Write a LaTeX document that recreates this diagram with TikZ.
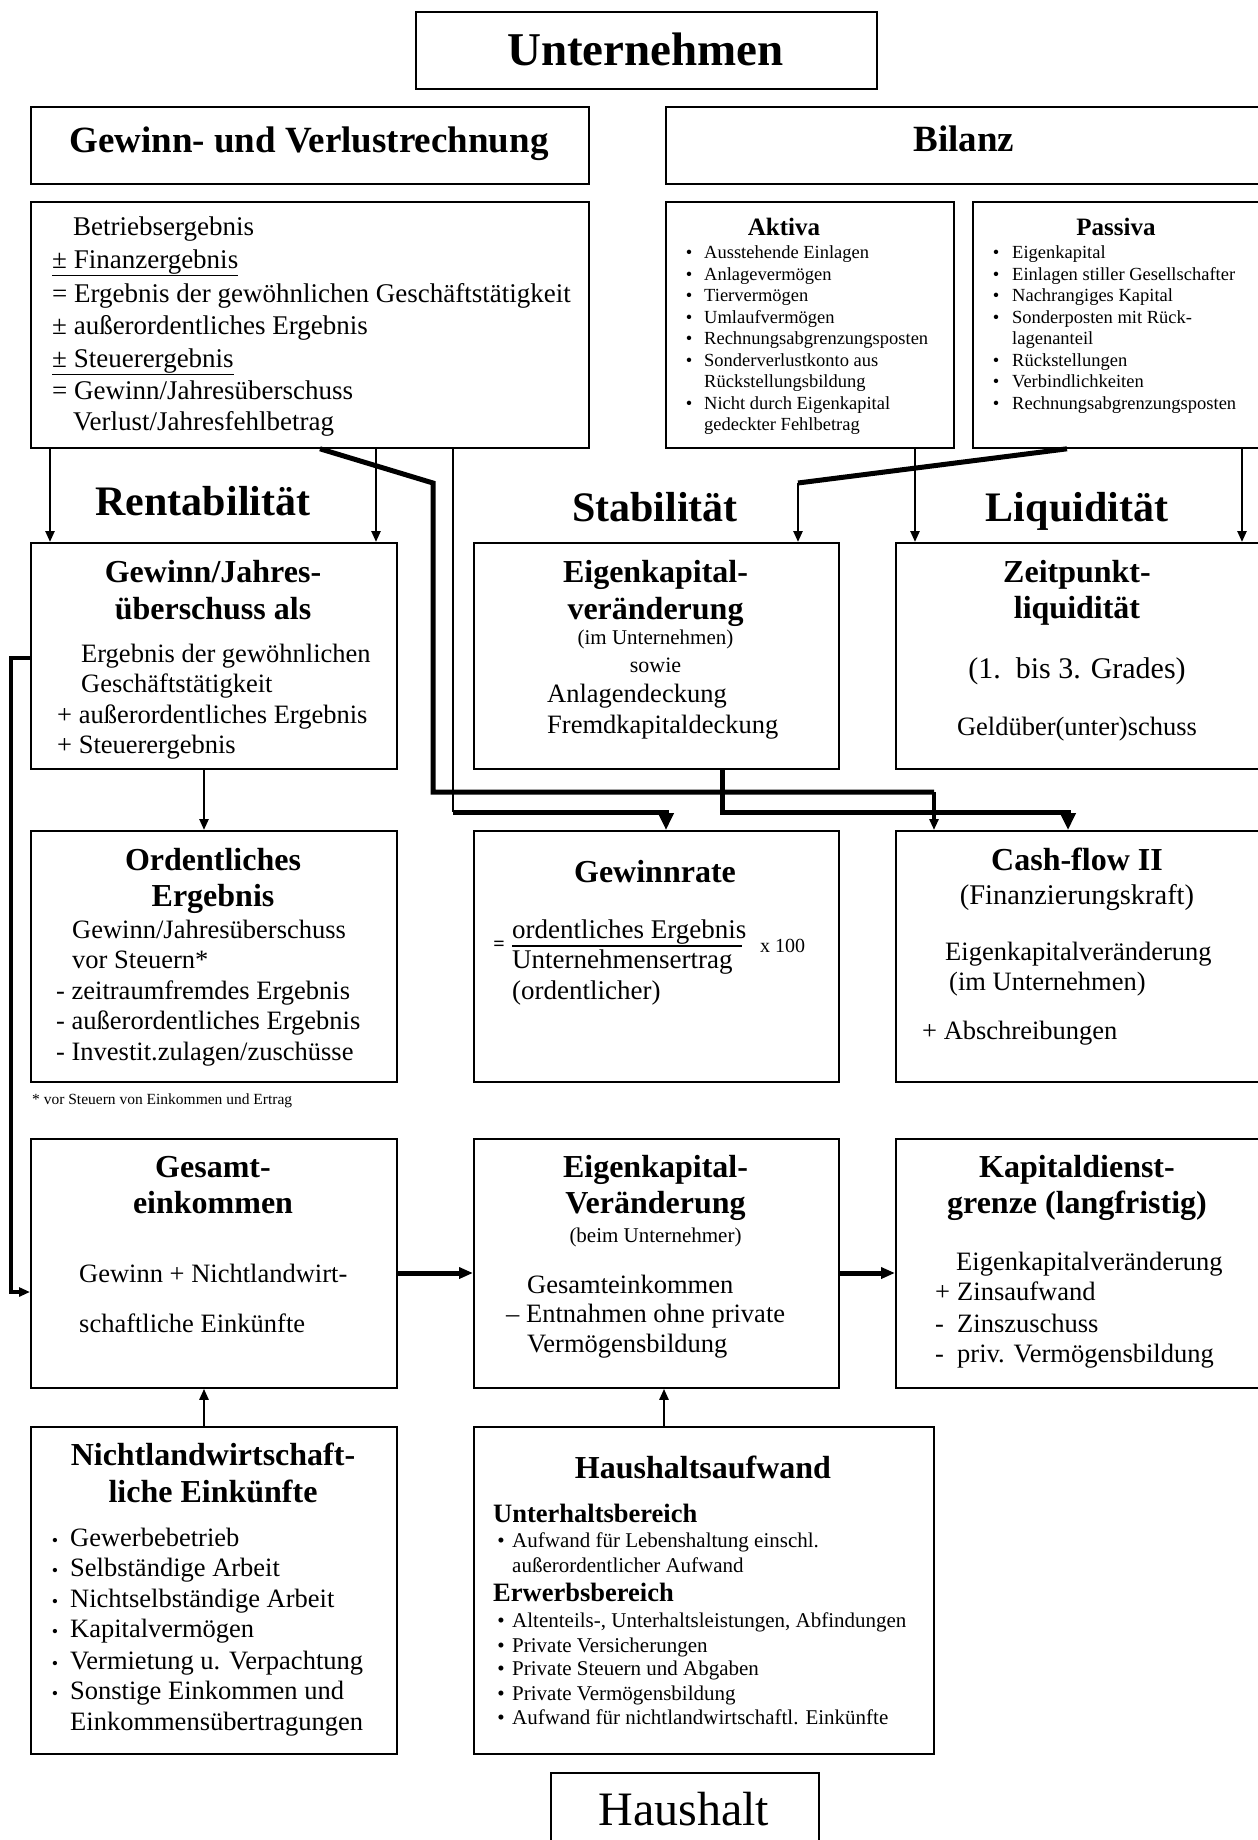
\documentclass[tikz,border=0pt]{standalone}
\usepackage{fontspec}
\setmainfont{Liberation Serif}
\usetikzlibrary{arrows.meta}
\newcommand\myfz[1]{\fontsize{#1pt}{#1pt}\selectfont}
\begin{document}
\begin{tikzpicture}[x=1pt,y=-1pt,
  box/.style={draw,line width=1.8pt,inner sep=0pt,anchor=north west},
  lt/.style={inner sep=0pt,anchor=base west},
  ct/.style={inner sep=0pt,anchor=base},
  body/.style={font=\myfz{26.5}},
  ttl/.style={font=\bfseries\myfz{32}},
  head/.style={font=\bfseries\myfz{42}},
  sm/.style={font=\myfz{18.5}},
  hs/.style={font=\myfz{21}},
  conthin/.style={line width=2.4pt},
  conthick/.style={line width=5pt},
  sarr/.style={-{Triangle[width=9pt,length=11pt]}},
  barr/.style={-{Triangle[width=15pt,length=17pt]}},
  marr/.style={-{Triangle[width=11pt,length=14pt]}},
]
\clip (0,0) rectangle (1258,1840);
% ---------- boxes ----------
\node[box,minimum width=461pt,minimum height=77pt] (unt) at (415,11) {};
\node[box,minimum width=558pt,minimum height=77pt] (guv) at (30,106) {};
\node[box,minimum width=598pt,minimum height=77pt] (bil) at (665,106) {};
\node[box,minimum width=558pt,minimum height=246pt] (guvc) at (30,201) {};
\node[box,minimum width=288pt,minimum height=246pt] (akt) at (665,201) {};
\node[box,minimum width=291pt,minimum height=246pt] (pas) at (972,201) {};
\node[box,minimum width=366pt,minimum height=226pt] (gew) at (30,542) {};
\node[box,minimum width=365pt,minimum height=226pt] (ekv) at (473,542) {};
\node[box,minimum width=368pt,minimum height=226pt] (zeit) at (895,542) {};
\node[box,minimum width=366pt,minimum height=251pt] (ord) at (30,830) {};
\node[box,minimum width=365pt,minimum height=251pt] (rate) at (473,830) {};
\node[box,minimum width=368pt,minimum height=251pt] (cash) at (895,830) {};
\node[box,minimum width=366pt,minimum height=249pt] (ges) at (30,1138) {};
\node[box,minimum width=365pt,minimum height=249pt] (ekvb) at (473,1138) {};
\node[box,minimum width=368pt,minimum height=249pt] (kap) at (895,1138) {};
\node[box,minimum width=366pt,minimum height=327pt] (nicht) at (30,1426) {};
\node[box,minimum width=460pt,minimum height=327pt] (haus) at (473,1426) {};
\node[box,minimum width=268pt,minimum height=80pt] (hh) at (550,1772) {};
% ---------- top texts ----------
\node[ct,font=\bfseries\myfz{47}] (tunt) at (645.5,65) {Unternehmen};
\node[ct,font=\bfseries\myfz{37}] (tguv) at (309,152) {Gewinn- und Verlustrechnung};
\node[ct,font=\bfseries\myfz{37}] (tbil) at (964,151) {Bilanz};
\node[lt,font=\myfz{27}] (g1) at (73,235) {Betriebsergebnis};
\node[lt,font=\myfz{27}] (g2) at (52,268) {\underline{± Finanzergebnis}};
\node[lt,font=\myfz{27}] (g3) at (52,302) {= Ergebnis der gewöhnlichen Geschäftstätigkeit};
\node[lt,font=\myfz{27}] (g4) at (52,334) {± außerordentliches Ergebnis};
\node[lt,font=\myfz{27}] (g5) at (52,367) {\underline{± Steuerergebnis}};
\node[lt,font=\myfz{27}] (g6) at (52,399) {= Gewinn/Jahresüberschuss};
\node[lt,font=\myfz{27}] (g7) at (73,430) {Verlust/Jahresfehlbetrag};
% Aktiva
\node[ct,font=\bfseries\myfz{25}] (tak) at (784,235) {Aktiva};
\node[ct,sm] (ab1) at (689,258.5) {•};
\node[lt,sm] (a1) at (704,258.5) {Ausstehende Einlagen};
\node[ct,sm] (ab2) at (689,280) {•};
\node[lt,sm] (a2) at (704,280) {Anlagevermögen};
\node[ct,sm] (ab3) at (689,301.5) {•};
\node[lt,sm] (a3) at (704,301.5) {Tiervermögen};
\node[ct,sm] (ab4) at (689,323) {•};
\node[lt,sm] (a4) at (704,323) {Umlaufvermögen};
\node[ct,sm] (ab5) at (689,344.5) {•};
\node[lt,sm] (a5) at (704,344.5) {Rechnungsabgrenzungsposten};
\node[ct,sm] (ab6) at (689,366) {•};
\node[lt,sm] (a6) at (704,366) {Sonderverlustkonto aus};
\node[lt,sm] (a7) at (704,387.5) {Rückstellungsbildung};
\node[ct,sm] (ab8) at (689,409) {•};
\node[lt,sm] (a8) at (704,409) {Nicht durch Eigenkapital};
\node[lt,sm] (a9) at (704,430.5) {gedeckter Fehlbetrag};
% Passiva
\node[ct,font=\bfseries\myfz{25}] (tpa) at (1116,235) {Passiva};
\node[ct,sm] (pb1) at (996,258.5) {•};
\node[lt,sm] (p1) at (1012,258.5) {Eigenkapital};
\node[ct,sm] (pb2) at (996,280) {•};
\node[lt,sm] (p2) at (1012,280) {Einlagen stiller Gesellschafter};
\node[ct,sm] (pb3) at (996,301.5) {•};
\node[lt,sm] (p3) at (1012,301.5) {Nachrangiges Kapital};
\node[ct,sm] (pb4) at (996,323) {•};
\node[lt,sm] (p4) at (1012,323) {Sonderposten mit Rück-};
\node[lt,sm] (p5) at (1012,344.5) {lagenanteil};
\node[ct,sm] (pb6) at (996,366) {•};
\node[lt,sm] (p6) at (1012,366) {Rückstellungen};
\node[ct,sm] (pb7) at (996,387.5) {•};
\node[lt,sm] (p7) at (1012,387.5) {Verbindlichkeiten};
\node[ct,sm] (pb8) at (996,409) {•};
\node[lt,sm] (p8) at (1012,409) {Rechnungsabgrenzungsposten};
% headings
\node[ct,head] (hr) at (203,515) {Rentabilität};
\node[ct,head] (hs) at (655,521) {Stabilität};
\node[ct,head] (hl) at (1077,521) {Liquidität};
% ---------- row 2 ----------
\node[ct,ttl] (gw1) at (213,582) {Gewinn/Jahres-};
\node[ct,ttl] (gw2) at (213,619) {überschuss als};
\node[lt,body] (gw3) at (81,662) {Ergebnis der gewöhnlichen};
\node[lt,body] (gw4) at (81,692) {Geschäftstätigkeit};
\node[lt,body] (gw5) at (57,723) {+ außerordentliches Ergebnis};
\node[lt,body] (gw6) at (57,753) {+ Steuerergebnis};
\node[ct,ttl] (ek1) at (655.5,582) {Eigenkapital-};
\node[ct,ttl] (ek2) at (655.5,619) {veränderung};
\node[ct,font=\myfz{21}] (ek3) at (655.5,644) {(im Unternehmen)};
\node[ct,font=\myfz{22}] (ek4) at (655.5,672) {sowie};
\node[lt,body] (ek5) at (547,702) {Anlagendeckung};
\node[lt,body] (ek6) at (547,733) {Fremdkapitaldeckung};
\node[ct,ttl] (ze1) at (1077,582) {Zeitpunkt-};
\node[ct,ttl] (ze2) at (1077,618) {liquidität};
\node[ct,font=\myfz{30}] (ze3) at (1077,678) {(1.\ \ bis 3. Grades)};
\node[ct,body] (ze4) at (1077,735) {Geldüber(unter)schuss};
% ---------- row 3 ----------
\node[ct,ttl] (or1) at (213,870) {Ordentliches};
\node[ct,ttl] (or2) at (213,906) {Ergebnis};
\node[lt,body] (or3) at (72,938) {Gewinn/Jahresüberschuss};
\node[lt,body] (or4) at (72,968) {vor Steuern*};
\node[lt,body] (or5) at (56,999) {- zeitraumfremdes Ergebnis};
\node[lt,body] (or6) at (56,1029) {- außerordentliches Ergebnis};
\node[lt,body] (or7) at (56,1060) {- Investit.zulagen/zuschüsse};
\node[ct,ttl] (ra1) at (655,882) {Gewinnrate};
\node[inner sep=0pt,font=\bfseries\myfz{20}] (ra2) at (499,946) {=};
\node[lt,font=\myfz{27}] (ra3) at (512,938) {ordentliches Ergebnis};
\coordinate (fl1) at (512,946);
\coordinate (fl2) at (742,946);
\draw[line width=2.5pt] (fl1) -- (fl2);
\node[lt,font=\myfz{27}] (ra4) at (512,968) {Unternehmensertrag};
\node[lt,font=\myfz{27}] (ra5) at (512,999) {(ordentlicher)};
\node[lt,font=\myfz{20}] (ra6) at (760,952) {x 100};
\node[ct,ttl] (cf1) at (1077,870) {Cash-flow II};
\node[ct,font=\myfz{28.5}] (cf2) at (1077,904) {(Finanzierungskraft)};
\node[lt,body] (cf3) at (945,960) {Eigenkapitalveränderung};
\node[lt,body] (cf4) at (949,990) {(im Unternehmen)};
\node[lt,body] (cf5) at (922,1039) {+ Abschreibungen};
\node[lt,font=\myfz{15.5}] (foot) at (32,1104) {* vor Steuern von Einkommen und Ertrag};
% ---------- row 4 ----------
\node[ct,ttl] (ge1) at (213,1177) {Gesamt-};
\node[ct,ttl] (ge2) at (213,1213) {einkommen};
\node[lt,body] (ge3) at (79,1282) {Gewinn + Nichtlandwirt-};
\node[lt,body] (ge4) at (79,1332) {schaftliche Einkünfte};
\node[ct,ttl] (eb1) at (655.5,1177) {Eigenkapital-};
\node[ct,ttl] (eb2) at (655.5,1213) {Veränderung};
\node[ct,font=\myfz{21}] (eb3) at (655.5,1242) {(beim Unternehmer)};
\node[lt,body] (eb4) at (527,1293) {Gesamteinkommen};
\node[lt,body] (eb5) at (506,1322) {– Entnahmen ohne private};
\node[lt,body] (eb6) at (527,1352) {Vermögensbildung};
\node[ct,ttl] (ka1) at (1077,1177) {Kapitaldienst-};
\node[ct,ttl] (ka2) at (1077,1213) {grenze (langfristig)};
\node[lt,body] (ka3) at (956,1270) {Eigenkapitalveränderung};
\node[lt,body] (ka4) at (935,1300) {\makebox[22pt][l]{+}Zinsaufwand};
\node[lt,body] (ka5) at (935,1332) {\makebox[22pt][l]{-}Zinszuschuss};
\node[lt,body] (ka6) at (935,1362) {\makebox[22pt][l]{-}priv. Vermögensbildung};
% ---------- row 5 ----------
\node[ct,ttl] (ni1) at (213,1465) {Nichtlandwirtschaft-};
\node[ct,ttl] (ni2) at (213,1502) {liche Einkünfte};
\node[ct,font=\myfz{18}] (nb1) at (55,1546) {•};
\node[lt,body] (n1) at (70,1546) {Gewerbebetrieb};
\node[ct,font=\myfz{18}] (nb2) at (55,1576) {•};
\node[lt,body] (n2) at (70,1576) {Selbständige Arbeit};
\node[ct,font=\myfz{18}] (nb3) at (55,1607) {•};
\node[lt,body] (n3) at (70,1607) {Nichtselbständige Arbeit};
\node[ct,font=\myfz{18}] (nb4) at (55,1637) {•};
\node[lt,body] (n4) at (70,1637) {Kapitalvermögen};
\node[ct,font=\myfz{18}] (nb5) at (55,1669) {•};
\node[lt,body] (n5) at (70,1669) {Vermietung u. Verpachtung};
\node[ct,font=\myfz{18}] (nb6) at (55,1699) {•};
\node[lt,body] (n6) at (70,1699) {Sonstige Einkommen und};
\node[lt,body] (n7) at (70,1730) {Einkommensübertragungen};
\node[ct,ttl] (ha1) at (703,1478) {Haushaltsaufwand};
\node[lt,font=\bfseries\myfz{26.5}] (ha2) at (493,1522) {Unterhaltsbereich};
\node[ct,hs] (hb1) at (501,1547) {•};
\node[lt,hs] (ha3) at (512,1547) {Aufwand für Lebenshaltung einschl.};
\node[lt,hs] (ha4) at (512,1572) {außerordentlicher Aufwand};
\node[lt,font=\bfseries\myfz{26.5}] (ha5) at (493,1601) {Erwerbsbereich};
\node[ct,hs] (hb2) at (501,1627) {•};
\node[lt,hs] (ha6) at (512,1627) {Altenteils-, Unterhaltsleistungen, Abfindungen};
\node[ct,hs] (hb3) at (501,1652) {•};
\node[lt,hs] (ha7) at (512,1652) {Private Versicherungen};
\node[ct,hs] (hb4) at (501,1675) {•};
\node[lt,hs] (ha8) at (512,1675) {Private Steuern und Abgaben};
\node[ct,hs] (hb5) at (501,1700) {•};
\node[lt,hs] (ha9) at (512,1700) {Private Vermögensbildung};
\node[ct,hs] (hb6) at (501,1724) {•};
\node[lt,hs] (ha10) at (512,1724) {Aufwand für nichtlandwirtschaftl. Einkünfte};
\node[ct,font=\myfz{48}] (thh) at (684,1825) {Haushalt};
% ---------- connector coordinates ----------
\coordinate (x50) at (50,0);
\coordinate (x376) at (376,0);
\coordinate (x204) at (204,0);
\coordinate (x320) at (320,0);
\coordinate (x453) at (453,0);
\coordinate (x664) at (664,0);
\coordinate (x722) at (722,0);
\coordinate (x915) at (915,0);
\coordinate (x1067) at (1067,0);
\coordinate (x1242) at (1242,0);
\coordinate (k1) at (433,483);
\coordinate (k2) at (433,792);
\coordinate (k3) at (934,792);
\coordinate (k4) at (453,812);
\coordinate (k5) at (666,812);
\coordinate (k6) at (722,812);
\coordinate (k7) at (1068,812);
\coordinate (k8) at (798,483);
\coordinate (k9) at (11,658);
\coordinate (k10) at (11,1292);
\coordinate (y1273) at (0,1273);
% ---------- connectors ----------
\draw[conthin,sarr] (guvc.south -| x50) -- (gew.north -| x50);
\draw[conthin,sarr] (guvc.south -| x376) -- (gew.north -| x376);
\draw[conthick] (guvc.south -| x320) -- (k1) -- (k2) -- (k3);
\draw[line width=3.5pt,sarr] (k3) -- (cash.north -| k3);
\draw[conthin] (guvc.south -| x453) -- (k4);
\draw[conthick,barr] (k4) -- (k5) -- (rate.north -| k5);
\draw[conthick,barr] (ekv.south -| x722) -- (k6) -- (k7) -- (cash.north -| k7);
\draw[conthick] (pas.south -| x1067) -- (k8);
\draw[conthin,sarr] (k8) -- (ekv.north -| k8);
\draw[conthin,sarr] (akt.south -| x915) -- (zeit.north -| x915);
\draw[conthin,sarr] (pas.south -| x1242) -- (zeit.north -| x1242);
\draw[conthin,sarr] (gew.south -| x204) -- (ord.north -| x204);
\draw[line width=4pt,-{Triangle[width=9pt,length=11pt]}] (gew.west |- k9) -- (k9) -- (k10) -- (ges.west |- k10);
\draw[conthick,marr] (ges.east |- y1273) -- (ekvb.west |- y1273);
\draw[conthick,marr] (ekvb.east |- y1273) -- (kap.west |- y1273);
\draw[conthin,sarr] (nicht.north -| x204) -- (ges.south -| x204);
\draw[conthin,sarr] (haus.north -| x664) -- (ekvb.south -| x664);
\end{tikzpicture}
\end{document}
